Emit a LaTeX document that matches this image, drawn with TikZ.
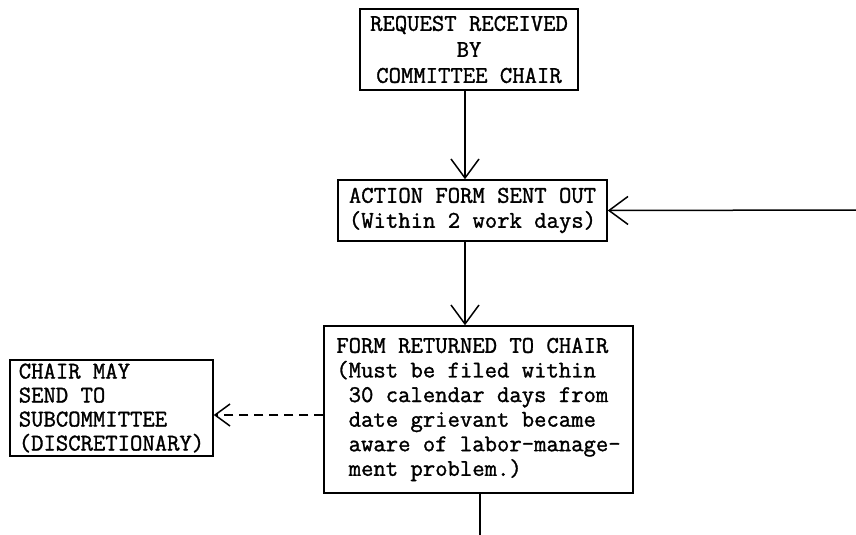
\documentclass[tikz,border=0pt]{standalone}
\usepackage{fontspec}
\newfontfamily\twfont{Latin Modern Mono}[FakeBold=1.3]
\usetikzlibrary{arrows.meta}
\begin{document}
\begin{tikzpicture}[x=1pt,y=-1pt,
  box/.style={draw, line width=1.5pt, inner sep=0pt, font=\fontsize{24}{25}\selectfont\twfont},
  arr/.style={line width=1.5pt, -{Straight Barb[length=19pt,width=28pt,line width=1.5pt]}},
  darr/.style={line width=1.5pt, dash pattern=on 9pt off 6pt, -{Straight Barb[length=15pt,width=22pt,line width=1.5pt]}}
]
\useasboundingbox[fill=white] (0,0) rectangle (856,535);

\node[box, align=center, minimum width=218pt, minimum height=81pt,
      font=\fontsize{24}{26}\selectfont\twfont] (b1) at (469,49.5)
  {REQUEST RECEIVED\\BY\\COMMITTEE CHAIR};

\node[box, align=center, minimum width=269pt, minimum height=61pt] (b2) at (472.5,210.5)
  {ACTION FORM SENT OUT\\(Within 2 work days)};

\node[box, align=left, minimum width=309pt, minimum height=167pt,
      font=\fontsize{24}{24.6}\selectfont\twfont] (b3) at (478.5,409.5)
  {FORM RETURNED TO CHAIR\\(Must be filed within\\~30 calendar days from\\~date grievant became\\~aware of labor-manage-\\~ment problem.)};

\node[box, align=left, minimum width=203pt, minimum height=96pt,
      font=\fontsize{24}{24}\selectfont\twfont] (b4) at (111.5,408)
  {CHAIR MAY\\SEND TO\\SUBCOMMITTEE\\(DISCRETIONARY)};

\coordinate (rin) at (856,210);
\coordinate (dout) at (480,535);

\draw[arr] ([xshift=-4pt]b1.south) -- ([xshift=-7.5pt]b2.north);
\draw[arr] ([xshift=-7.5pt]b2.south) -- ([xshift=-13.5pt]b3.north);
\draw[arr] (rin) -- (b2.east);
\draw[darr] ([yshift=-5.5pt]b3.west) -- ([yshift=-7pt]b4.east);
\draw[line width=1.5pt] ([xshift=1.5pt]b3.south) -- (dout);
\end{tikzpicture}
\end{document}
